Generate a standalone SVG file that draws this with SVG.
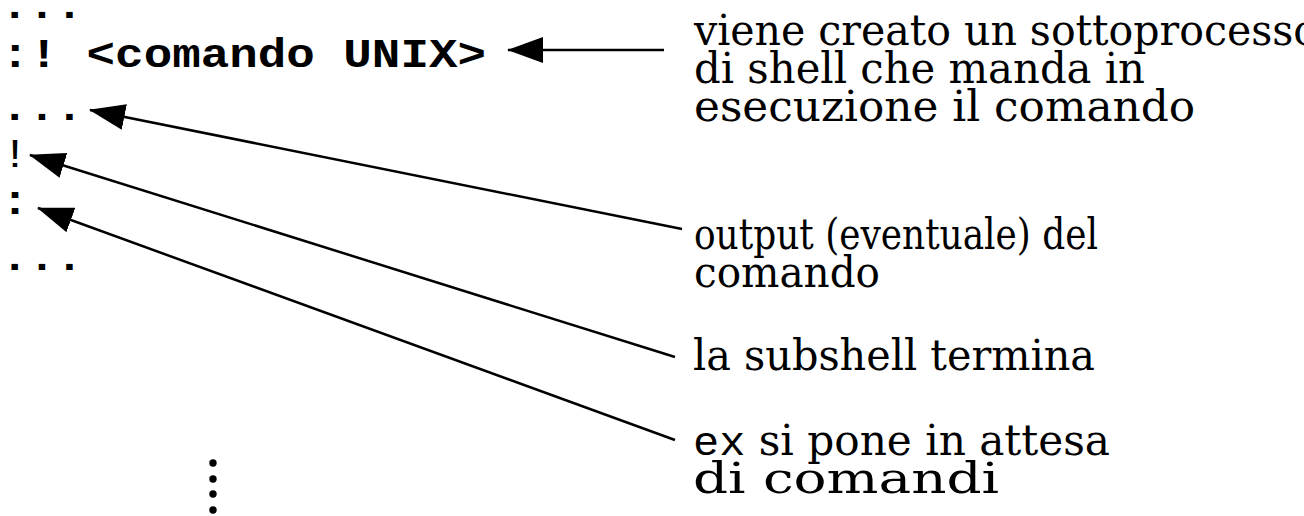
<svg xmlns="http://www.w3.org/2000/svg" width="1304" height="516" viewBox="0 0 1304 516">
<style>
.mono{font-family:"Liberation Mono","Courier New",monospace;font-size:41px;fill:#000}
.b{font-weight:bold}
.serif{font-family:"DejaVu Serif Condensed","DejaVu Serif","Liberation Serif",serif;font-size:43px;fill:#000}
.conn{stroke:#000;stroke-width:2.5;fill:none}
</style>
<defs>
<marker id="ah" viewBox="0 0 36 26" refX="35" refY="13" markerWidth="36" markerHeight="26" markerUnits="userSpaceOnUse" orient="auto">
<path d="M0,0 L36,13 L0,26 Z" fill="#000"/>
</marker>
</defs>
<rect width="1304" height="516" fill="#fff"/>
<g id="code">
<text class="mono b" x="1" y="18" textLength="82" lengthAdjust="spacingAndGlyphs">...</text>
<text class="mono b" x="1" y="67" textLength="485" lengthAdjust="spacingAndGlyphs">:! &lt;comando UNIX&gt;</text>
<text class="mono b" x="1" y="120" textLength="82" lengthAdjust="spacingAndGlyphs">...</text>
<text class="mono" x="1" y="167" textLength="28" lengthAdjust="spacingAndGlyphs">!</text>
<text class="mono b" x="1" y="214" textLength="28" lengthAdjust="spacingAndGlyphs">:</text>
<text class="mono b" x="1" y="270" textLength="82" lengthAdjust="spacingAndGlyphs">...</text>
</g>
<g id="vdots" fill="#000">
<circle cx="213" cy="463" r="3.7"/>
<circle cx="213" cy="479" r="3.7"/>
<circle cx="213" cy="494" r="3.7"/>
<circle cx="213" cy="510" r="3.7"/>
</g>
<g id="label1">
<text class="serif" x="694" y="45" textLength="624" lengthAdjust="spacingAndGlyphs">viene creato un sottoprocesso</text>
<text class="serif" x="694" y="83" textLength="451" lengthAdjust="spacingAndGlyphs">di shell che manda in</text>
<text class="serif" x="694" y="121" textLength="501" lengthAdjust="spacingAndGlyphs">esecuzione il comando</text>
</g>
<g id="label2">
<text class="serif" x="694" y="249" textLength="404" lengthAdjust="spacingAndGlyphs">output (eventuale) del</text>
<text class="serif" x="694" y="287" textLength="186" lengthAdjust="spacingAndGlyphs">comando</text>
</g>
<g id="label3">
<text class="serif" x="693" y="370" textLength="402" lengthAdjust="spacingAndGlyphs">la subshell termina</text>
</g>
<g id="label4">
<text class="serif" x="693" y="455" textLength="417" lengthAdjust="spacingAndGlyphs"><tspan style="font-family:'Liberation Mono',monospace;font-size:40px">ex</tspan> si pone in attesa</text>
<text class="serif" x="693" y="493" textLength="306" lengthAdjust="spacingAndGlyphs">di comandi</text>
</g>
<g id="connectors">
<line class="conn" x1="664" y1="50" x2="508" y2="50" marker-end="url(#ah)"/>
<line class="conn" x1="682" y1="229" x2="90" y2="110" marker-end="url(#ah)"/>
<line class="conn" x1="675" y1="357" x2="30" y2="155" marker-end="url(#ah)"/>
<line class="conn" x1="675" y1="440" x2="38" y2="208" marker-end="url(#ah)"/>
</g>
</svg>
